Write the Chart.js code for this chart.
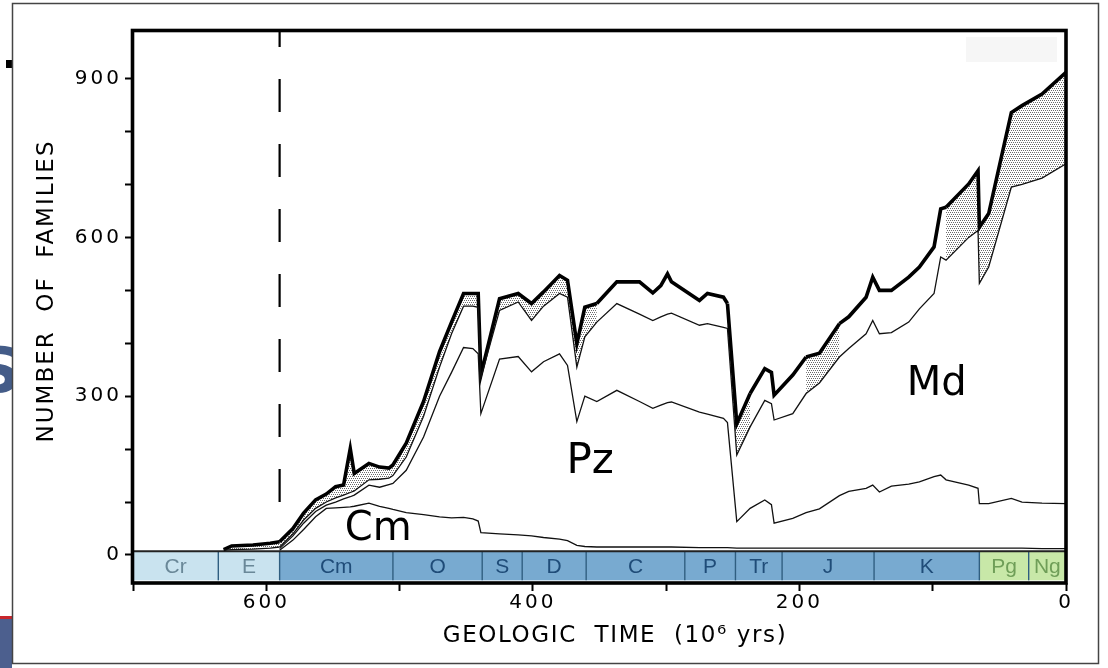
<!DOCTYPE html>
<html>
<head>
<meta charset="utf-8">
<script src="https://cdn.jsdelivr.net/npm/chart.js@4.4.1/dist/chart.umd.min.js"></script>
<style>
  html, body { margin: 0; padding: 0; background: #fff; }
  #wrap { width: 1108px; height: 668px; }
</style>
</head>
<body>
<div id="wrap"><canvas id="chart" width="1108" height="668"></canvas></div>
<script>
// ages in millions of years before present
const ages = [590, 580, 572, 563, 555, 548, 542, 537, 534, 523, 515, 508, 505, 495, 482,
  470, 461, 452, 445, 441, 439, 425, 411, 401, 392, 380, 374, 367, 361, 352,
  337, 320, 310, 304, 299, 296, 275, 269, 257, 254, 247, 237, 226, 221, 219,
  205, 195, 185, 170, 163, 150, 145, 140, 131, 118, 110, 99, 94, 90, 73,
  66, 65, 58, 41, 33, 18, 0];
// total families (thick line)
const total = [25, 50, 79, 104, 115, 129, 132, 201, 154, 173, 166, 164, 170, 211, 290,
  384, 440, 494, 494, 494, 340, 484, 494, 475, 497, 528, 519, 399, 468, 475,
  516, 516, 495, 509, 531, 516, 481, 494, 487, 475, 248, 305, 352, 345, 302,
  340, 374, 381, 437, 450, 487, 525, 500, 500, 525, 544, 582, 654, 657, 701,
  726, 619, 645, 836, 849, 871, 912];
// Cm + Pz + Md (bottom of stippled band)
const mdTop = [15, 40, 66, 88, 100, 108, 113, 118, 121, 142, 143, 145, 150, 185, 262,
  355, 418, 470, 470, 468, 335, 462, 478, 443, 470, 494, 487, 355, 412, 440,
  475, 455, 443, 450, 455, 457, 434, 437, 430, 428, 189, 242, 292, 286, 255,
  267, 305, 325, 374, 390, 418, 443, 418, 420, 440, 465, 494, 563, 557, 600,
  613, 513, 544, 695, 700, 712, 739];
// Cm + Pz
const pzTop = [12, 36, 60, 82, 94, 100, 106, 110, 113, 132, 128, 133, 135, 160, 223,
  300, 345, 392, 390, 380, 267, 370, 375, 346, 365, 380, 358, 252, 300, 290,
  311, 290, 277, 283, 288, 289, 270, 266, 258, 250, 63, 88, 104, 95, 60,
  69, 80, 87, 112, 120, 126, 132, 119, 130, 134, 138, 148, 151, 142, 132,
  126, 97, 97, 107, 100, 98, 97];
// Cm
const cmTop = [9, 28, 48, 72, 88, 89, 90, 91, 92, 98, 92, 88, 86, 80, 76,
  72, 70, 71, 68, 64, 42, 40, 38, 36, 33, 30, 27, 18, 16, 15,
  15, 15, 15, 15, 15, 15, 14, 14, 14, 14, 13, 13, 13, 13, 13,
  13, 13, 13, 13, 13, 13, 13, 13, 13, 13, 13, 13, 13, 13, 13,
  13, 13, 13, 13, 13, 12, 12];

// Vendian (Ediacaran) fauna
const vendianAges = [632, 626, 610, 597, 590];
const vendianTop = [10, 17, 19, 22, 25];
const vendianBase = [9, 10, 11, 13, 15];

// intervals where the band is stippled in the figure
const stippleSpans = [[632, 352], [254, 237], [195, 170], [90, 0]];

const periodNames = ['Cr', 'E', 'Cm', 'O', 'S', 'D', 'C', 'P', 'Tr', 'J', 'K', 'Pg', 'Ng'];
const periodStart = [700, 636, 590, 505, 438, 408, 360, 286, 248, 213, 144, 65, 28];
const periodEnd = [636, 590, 505, 438, 408, 360, 286, 248, 213, 144, 65, 28, 0];
const periodKind = ['pre', 'pre', 'ph', 'ph', 'ph', 'ph', 'ph', 'ph', 'ph', 'ph', 'ph', 'cz', 'cz'];

const faunaNames = ['Cm', 'Pz', 'Md'];
const faunaAges = [516, 357, 97];
const faunaValues = [47, 175, 321];

const xTickLabels = [0, 200, 400, 600];
const yTickLabels = [0, 300, 600, 900];
const boundaryAge = 590;
const boundarySpan = [990, 90];

const kindFill = { pre: '#c9e3ef', ph: '#78aad0', cz: '#c8e8a8' };
const kindText = { pre: '#6a8898', ph: '#1f4c78', cz: '#6f9e58' };

const canvas = document.getElementById('chart');
const mainCtx = canvas.getContext('2d');

function dotPattern() {
  const tile = document.createElement('canvas');
  tile.width = 4; tile.height = 4;
  const g = tile.getContext('2d');
  g.fillStyle = '#6a6a6a';
  g.fillRect(0, 0, 1, 1);
  g.fillRect(2, 0, 1, 1);
  g.fillRect(1, 2, 1, 1);
  g.fillRect(3, 2, 1, 1);
  return mainCtx.createPattern(tile, 'repeat');
}
const dots = dotPattern();

function inStipple(ctx) {
  const a = ctx.p0.parsed.x, b = ctx.p1.parsed.x;
  return stippleSpans.some(s => a <= s[0] && b >= s[1]);
}

const pts = (xs, ys) => xs.map((x, i) => ({ x: x, y: ys[i] }));

const thin = { borderColor: '#111', borderWidth: 1.3, pointRadius: 0, tension: 0, fill: false };

const decor = {
  id: 'decor',
  beforeDraw(chart) {
    const ctx = chart.ctx;
    ctx.save();
    ctx.fillStyle = '#fff';
    ctx.fillRect(0, 0, chart.width, chart.height);
    ctx.fillStyle = '#f6f6f6';
    ctx.fillRect(966, 37, 91, 25);
    ctx.save();
    ctx.beginPath(); ctx.rect(0, 0, 12, 668); ctx.clip();
    ctx.fillStyle = '#445c88';
    ctx.font = 'bold 62px "DejaVu Sans"';
    ctx.fillText('S', -24, 392);
    ctx.fillStyle = '#c8262c';
    ctx.fillRect(0, 616, 12, 3);
    ctx.fillStyle = '#4c5f8e';
    ctx.fillRect(0, 619, 12, 49);
    ctx.restore();
    ctx.fillStyle = '#000';
    ctx.fillRect(6, 60, 6, 8);
    ctx.strokeStyle = '#444';
    ctx.lineWidth = 1.5;
    ctx.strokeRect(12.5, 3.5, 1086, 660);
    ctx.restore();
    ctx.letterSpacing = '3px';
  }
};

const timescale = {
  id: 'timescale',
  beforeDatasetsDraw(chart) {
    const { ctx, scales: { x, y } } = chart;
    const top = y.getPixelForValue(7);
    const bottom = y.getPixelForValue(-48);
    ctx.save();
    ctx.letterSpacing = '0px';
    periodNames.forEach((name, i) => {
      const x0 = x.getPixelForValue(periodStart[i]);
      const x1 = x.getPixelForValue(periodEnd[i]);
      ctx.fillStyle = kindFill[periodKind[i]];
      ctx.fillRect(x0, top, x1 - x0, bottom - top);
      if (i > 0) {
        ctx.strokeStyle = '#2f5e80';
        ctx.lineWidth = 1.4;
        ctx.beginPath(); ctx.moveTo(x0, top); ctx.lineTo(x0, bottom); ctx.stroke();
      }
      ctx.fillStyle = kindText[periodKind[i]];
      ctx.font = '21px "Liberation Sans Narrow", "Liberation Sans", sans-serif';
      ctx.textAlign = 'center';
      ctx.textBaseline = 'middle';
      ctx.fillText(name, (x0 + x1) / 2, (top + bottom) / 2 + 1);
    });
    ctx.strokeStyle = '#222';
    ctx.lineWidth = 2;
    ctx.beginPath(); ctx.moveTo(x.left, top); ctx.lineTo(x.right, top); ctx.stroke();
    ctx.restore();
  }
};

const overlay = {
  id: 'overlay',
  afterDatasetsDraw(chart) {
    const { ctx, chartArea: a, scales: { x, y } } = chart;
    ctx.save();
    ctx.letterSpacing = '0px';
    ctx.fillStyle = '#000';
    ctx.textAlign = 'center';
    ctx.textBaseline = 'middle';
    faunaNames.forEach((n, i) => {
      ctx.font = (n === 'Pz' ? '42px' : '40px') + ' "DejaVu Sans"';
      ctx.fillText(n, x.getPixelForValue(faunaAges[i]), y.getPixelForValue(faunaValues[i]));
    });
    // frame
    ctx.strokeStyle = '#000';
    ctx.lineWidth = 3.6;
    ctx.strokeRect(a.left - 0.5, a.top - 0.5, a.right - a.left + 0.5, a.bottom - a.top + 0.5);
    // axis titles
    ctx.font = '23px "DejaVu Sans"';
    ctx.letterSpacing = '2px';
    ctx.save();
    ctx.translate(47, 291);
    ctx.rotate(-Math.PI / 2);
    ctx.fillText('NUMBER  OF  FAMILIES', 0, 0);
    ctx.restore();
    ctx.letterSpacing = '1.6px';
    ctx.fillText('GEOLOGIC  TIME  (10\u2076 yrs)', 615, 636);
    ctx.restore();
  }
};

new Chart(canvas, {
  type: 'line',
  data: {
    datasets: [
      Object.assign({}, thin, { data: pts(vendianAges, vendianBase) }),
      { data: pts(vendianAges, vendianTop), borderColor: '#000', borderWidth: 3.5,
        pointRadius: 0, tension: 0, fill: '-1', backgroundColor: dots },
      Object.assign({}, thin, { data: pts(ages, cmTop) }),
      Object.assign({}, thin, { data: pts(ages, pzTop) }),
      Object.assign({}, thin, { data: pts(ages, mdTop) }),
      { data: pts(ages, total), borderColor: '#000', borderWidth: 3.6, pointRadius: 0,
        tension: 0, fill: '-1', backgroundColor: dots,
        segment: { backgroundColor: c => inStipple(c) ? dots : 'rgba(255,255,255,0)' } },
      { data: [{ x: boundaryAge, y: boundarySpan[0] }, { x: boundaryAge, y: boundarySpan[1] }],
        borderColor: '#000', borderWidth: 2.2, borderDash: [33, 32], borderDashOffset: 17,
        pointRadius: 0, fill: false }
    ]
  },
  options: {
    responsive: false,
    animation: false,
    events: [],
    layout: { padding: { top: 31, right: 42, bottom: 0, left: 0 } },
    plugins: { legend: { display: false }, tooltip: { enabled: false } },
    scales: {
      x: {
        type: 'linear',
        reverse: true,
        min: 0,
        max: 700,
        afterFit(s) { s.height = 85; },
        border: { display: false },
        grid: { drawOnChartArea: false, tickLength: 8, tickWidth: 2, color: '#000' },
        ticks: {
          stepSize: 100, includeBounds: false, autoSkip: false, maxRotation: 0, padding: 0,
          color: '#000', font: { family: 'DejaVu Sans', size: 20 },
          callback: v => xTickLabels.includes(v) ? String(v) : ''
        }
      },
      y: {
        min: -53,
        max: 990,
        afterFit(s) { s.width = 133; },
        border: { display: false },
        grid: { drawOnChartArea: false, tickLength: 8, tickWidth: 2, color: '#000' },
        ticks: {
          stepSize: 100, includeBounds: false, autoSkip: false, padding: 3,
          color: '#000', font: { family: 'DejaVu Sans', size: 20 },
          callback: v => yTickLabels.includes(v) ? String(v) : ''
        }
      }
    }
  },
  plugins: [decor, timescale, overlay]
});
</script>
</body>
</html>
